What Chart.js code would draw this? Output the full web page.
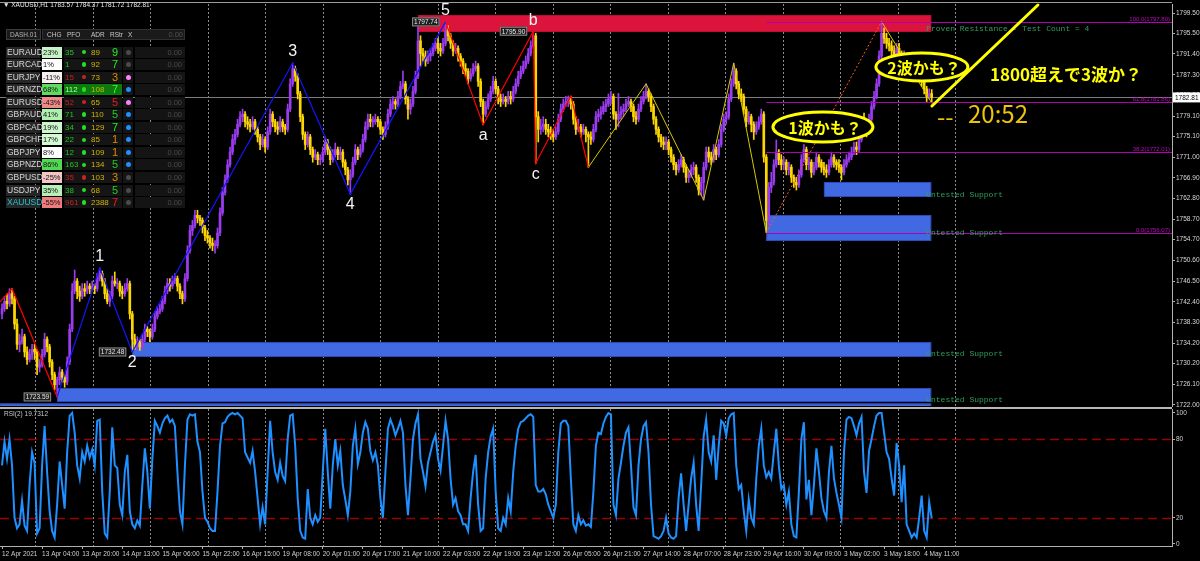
<!DOCTYPE html>
<html lang="ja">
<head>
<meta charset="utf-8">
<title>XAUUSD H1</title>
<script src="https://cdn.jsdelivr.net/npm/chart.js@4.4.1/dist/chart.umd.min.js"></script>
<style>
html,body{margin:0;padding:0;background:#000;}
body{width:1200px;height:561px;position:relative;overflow:hidden;}
canvas{position:absolute;left:0;}
#cMain{top:0;width:1200px;height:407px;}
#cRsi{top:407px;width:1200px;height:154px;}
.d{position:absolute;box-sizing:border-box;height:11px;line-height:11px;white-space:nowrap;font-family:"Liberation Sans",Arial,sans-serif;font-size:8px;}
.dot{position:absolute;border-radius:50%;}
</style>
</head>
<body>
<canvas id="cMain" width="1200" height="407"></canvas>
<canvas id="cRsi" width="1200" height="154"></canvas>
<div id="dash"></div>
<script>
// ---------------- DATA ----------------
const symbolTitle = 'XAUUSD,H1';
const firstOpen = 1740.0;
const C = [
1741.0,1742.5,1742.0,1744.0,1743.0,1738.0,1734.0,1734.5,1735.5,1732.5,
1731.0,1732.0,1733.0,1732.5,1729.5,1730.0,1732.0,1735.0,1733.5,1730.5,
1728.0,1726.0,1727.0,1728.5,1727.5,1726.5,1730.5,1737.0,1744.5,1746.5,
1744.5,1743.5,1745.0,1744.5,1745.5,1745.0,1745.5,1745.0,1747.0,1748.0,
1746.5,1744.0,1742.5,1743.5,1746.5,1746.0,1746.0,1744.5,1744.0,1745.0,
1746.0,1740.0,1735.0,1734.0,1734.5,1733.5,1735.0,1737.0,1736.5,1735.5,
1737.0,1739.5,1740.5,1741.0,1742.5,1744.5,1746.0,1745.5,1746.5,1747.0,
1745.5,1744.0,1743.0,1747.0,1752.5,1756.5,1757.5,1759.5,1759.0,1758.5,
1757.0,1755.5,1755.0,1754.0,1753.5,1753.5,1756.0,1760.0,1764.0,1766.5,
1769.5,1772.0,1774.5,1775.5,1777.5,1779.0,1779.5,1778.0,1777.5,1777.0,
1778.0,1776.5,1775.0,1773.5,1774.5,1773.0,1776.0,1779.5,1778.0,1777.0,
1776.5,1778.0,1777.0,1776.5,1780.5,1785.5,1788.5,1787.0,1783.5,1779.0,
1775.5,1773.5,1775.0,1772.5,1771.0,1771.5,1770.5,1770.5,1772.0,1774.0,
1772.5,1770.5,1771.5,1772.5,1771.5,1772.0,1770.0,1768.5,1766.5,1767.5,
1770.0,1772.5,1771.5,1772.5,1774.5,1777.0,1778.5,1778.0,1778.0,1778.5,
1778.0,1776.5,1775.5,1777.0,1779.5,1781.5,1782.0,1781.5,1783.0,1785.0,
1785.5,1782.5,1780.5,1781.5,1784.0,1787.0,1794.0,1791.5,1791.0,1790.0,
1791.0,1791.5,1792.5,1793.5,1792.5,1792.0,1793.5,1796.0,1795.0,1793.5,
1792.0,1792.5,1791.0,1790.0,1788.5,1788.0,1786.5,1787.5,1788.5,1789.0,
1786.0,1782.0,1779.5,1781.0,1782.5,1784.0,1786.0,1784.5,1782.5,1782.0,
1782.5,1782.0,1783.0,1782.5,1784.0,1785.5,1787.0,1788.0,1789.0,1790.0,
1791.5,1793.0,1795.0,1779.0,1776.5,1777.0,1777.5,1776.5,1776.0,1775.5,
1775.0,1776.0,1778.5,1780.5,1781.5,1782.0,1782.5,1781.5,1778.5,1776.5,
1777.0,1776.0,1776.5,1775.5,1775.0,1774.5,1776.5,1779.0,1779.5,1780.0,
1781.0,1781.5,1782.5,1783.0,1779.5,1778.5,1779.5,1780.0,1780.5,1781.5,
1782.0,1781.0,1779.0,1778.5,1780.5,1782.0,1783.0,1784.0,1783.0,1781.0,
1778.5,1776.5,1775.0,1774.0,1773.5,1774.0,1772.5,1771.0,1769.5,1768.5,
1769.5,1770.5,1769.0,1767.0,1767.5,1768.5,1769.0,1767.0,1764.5,1766.0,
1769.0,1772.0,1771.0,1770.5,1772.5,1771.5,1773.5,1776.5,1778.5,1779.0,
1782.5,1785.5,1788.0,1785.5,1783.5,1783.0,1780.5,1778.0,1779.0,1777.5,
1776.0,1777.0,1778.0,1779.5,1771.0,1758.5,1765.0,1766.0,1769.5,1772.0,
1770.5,1769.5,1770.0,1768.5,1769.0,1767.0,1766.0,1765.5,1767.5,1770.5,
1772.5,1769.5,1770.0,1768.0,1769.0,1771.0,1770.0,1769.0,1768.5,1768.0,
1769.5,1771.0,1770.0,1769.5,1769.0,1768.0,1769.5,1770.5,1771.0,1772.0,
1773.0,1772.5,1774.5,1777.5,1776.5,1776.0,1778.5,1781.0,1783.0,1785.5,
1791.0,1795.5,1794.5,1793.5,1793.0,1792.0,1791.0,1792.5,1791.5,1790.0,
1791.0,1789.5,1788.5,1787.5,1788.0,1787.0,1787.5,1786.0,1784.5,1783.0,
1783.57,1782.81];
const H = [
1742.0,1743.5,1744.0,1745.0,1745.0,1743.5,1739.0,1736.0,1737.0,1736.0,
1733.5,1733.0,1734.0,1734.0,1733.0,1731.0,1733.0,1736.2,1735.5,1734.0,
1731.0,1728.5,1727.5,1729.5,1729.0,1728.0,1731.5,1738.0,1746.0,1748.7,
1747.0,1745.5,1746.0,1746.0,1746.5,1746.0,1746.5,1746.0,1748.0,1749.1,
1748.5,1747.0,1745.0,1744.5,1747.5,1748.3,1747.0,1746.5,1745.5,1746.0,
1747.0,1746.5,1740.5,1736.0,1735.5,1735.0,1736.0,1738.0,1737.5,1737.0,
1738.0,1740.5,1741.5,1742.0,1743.5,1745.5,1747.0,1747.0,1747.5,1748.0,
1747.5,1746.0,1744.5,1748.0,1753.5,1757.5,1758.5,1760.5,1760.5,1759.5,
1759.0,1757.5,1756.5,1755.5,1755.0,1754.5,1757.0,1761.0,1765.0,1767.5,
1770.5,1773.0,1775.5,1776.5,1778.5,1780.0,1780.5,1780.0,1779.0,1778.5,
1779.0,1778.5,1777.0,1775.5,1775.5,1775.0,1777.0,1780.5,1780.0,1778.5,
1778.0,1779.0,1778.5,1777.5,1781.5,1786.5,1789.6,1789.0,1787.5,1784.0,
1779.5,1776.0,1776.0,1775.5,1773.0,1772.5,1772.0,1771.5,1773.0,1775.0,
1774.5,1773.0,1772.5,1773.8,1773.0,1773.0,1772.5,1770.5,1769.0,1768.5,
1771.0,1773.5,1773.0,1773.5,1775.5,1778.0,1779.5,1779.5,1779.0,1779.5,
1779.0,1778.5,1777.0,1778.0,1780.5,1782.5,1783.0,1782.5,1784.0,1786.0,
1788.0,1786.0,1783.0,1782.5,1785.0,1788.0,1797.5,1795.0,1792.5,1792.0,
1792.0,1792.5,1793.5,1794.5,1794.5,1793.5,1794.5,1797.7,1797.0,1795.5,
1794.0,1793.5,1793.0,1791.5,1790.5,1789.5,1788.5,1788.5,1789.5,1790.0,
1789.5,1786.5,1782.5,1782.0,1783.5,1785.0,1787.0,1786.5,1785.0,1783.5,
1783.5,1783.0,1784.0,1784.0,1785.0,1786.5,1788.0,1789.0,1790.0,1791.0,
1792.5,1794.0,1795.9,1795.5,1780.0,1778.5,1779.0,1778.5,1777.5,1777.0,
1776.5,1777.0,1779.5,1781.5,1782.5,1783.0,1783.1,1783.0,1782.0,1779.0,
1778.5,1777.5,1777.5,1777.0,1776.0,1776.0,1777.5,1780.0,1780.5,1781.0,
1782.0,1782.5,1783.5,1784.0,1783.5,1780.0,1783.6,1781.0,1781.5,1782.5,
1783.0,1782.5,1781.5,1780.0,1781.5,1783.0,1784.0,1785.5,1784.5,1783.5,
1781.5,1779.0,1777.0,1775.5,1775.0,1775.0,1774.5,1773.0,1771.5,1770.0,
1770.5,1771.5,1771.0,1769.5,1768.5,1769.5,1770.0,1769.5,1767.5,1767.0,
1770.0,1773.0,1773.0,1772.0,1773.5,1773.0,1774.5,1777.5,1779.5,1780.0,
1783.5,1786.5,1789.6,1788.5,1786.0,1784.5,1783.5,1781.0,1780.0,1779.5,
1778.0,1778.0,1779.0,1780.5,1780.0,1771.5,1766.0,1768.0,1770.5,1774.4,
1772.5,1771.5,1771.0,1770.5,1770.0,1769.5,1767.5,1767.0,1768.5,1771.5,
1773.5,1773.0,1771.0,1770.5,1770.0,1772.0,1771.5,1770.5,1770.0,1769.5,
1770.5,1772.0,1771.5,1770.5,1770.5,1769.5,1770.5,1771.5,1772.0,1773.0,
1774.0,1774.0,1775.5,1778.5,1779.7,1777.5,1779.5,1782.0,1784.0,1786.5,
1792.0,1797.8,1796.5,1795.5,1794.5,1794.0,1793.0,1793.5,1793.5,1792.0,
1792.0,1791.5,1790.5,1789.0,1789.0,1788.5,1788.5,1788.0,1786.5,1785.0,
1784.5,1784.37];
const L = [
1739.0,1740.5,1741.0,1741.5,1742.0,1737.0,1733.0,1732.5,1734.0,1731.5,
1730.0,1730.5,1731.0,1731.0,1728.0,1728.5,1729.5,1731.5,1732.5,1729.5,
1727.0,1725.0,1723.6,1726.0,1726.5,1725.5,1726.0,1730.0,1736.5,1744.0,
1743.0,1742.5,1743.0,1743.5,1744.0,1744.0,1744.5,1744.0,1744.5,1746.5,
1745.5,1743.0,1742.0,1741.5,1743.0,1745.5,1745.0,1743.5,1743.0,1743.5,
1744.5,1739.0,1732.5,1733.0,1733.0,1732.8,1733.0,1734.5,1735.5,1734.5,
1735.0,1736.5,1739.0,1740.0,1740.5,1742.0,1744.0,1744.5,1745.0,1746.0,
1744.5,1743.0,1742.0,1742.5,1746.5,1752.0,1755.5,1757.0,1758.0,1757.5,
1756.0,1754.5,1754.0,1753.0,1752.5,1752.0,1753.0,1755.5,1759.5,1763.5,
1766.0,1769.0,1771.5,1773.5,1775.0,1777.0,1778.0,1777.0,1776.5,1776.0,
1776.5,1775.5,1774.0,1772.5,1773.0,1772.0,1772.5,1775.5,1777.0,1776.0,
1775.5,1776.0,1776.0,1775.5,1776.0,1780.0,1785.0,1786.0,1782.5,1778.0,
1774.5,1772.5,1773.0,1771.5,1770.0,1770.5,1769.5,1769.5,1770.0,1771.5,
1771.5,1769.5,1770.0,1771.0,1770.5,1770.5,1769.0,1767.5,1765.5,1763.7,
1767.0,1769.5,1770.5,1771.0,1772.0,1774.0,1776.5,1777.0,1777.0,1777.5,
1777.0,1775.5,1774.5,1775.0,1776.5,1779.0,1780.5,1780.5,1781.0,1782.5,
1784.5,1781.5,1778.5,1779.5,1781.0,1783.5,1786.5,1789.0,1790.0,1789.0,
1789.5,1790.0,1791.0,1792.0,1791.5,1791.0,1791.5,1793.0,1794.0,1792.5,
1791.0,1791.5,1790.0,1789.0,1787.5,1787.0,1785.5,1786.0,1787.0,1788.0,
1785.0,1781.0,1777.4,1779.0,1780.5,1782.0,1783.5,1783.5,1781.5,1781.0,
1781.5,1781.0,1781.5,1781.5,1782.0,1783.5,1785.0,1786.5,1787.5,1788.5,
1789.5,1791.0,1792.5,1769.8,1774.0,1775.5,1776.0,1775.5,1775.0,1774.5,
1774.0,1774.5,1775.5,1778.0,1780.0,1781.0,1781.0,1780.5,1777.5,1775.5,
1776.0,1775.0,1775.5,1774.0,1769.0,1773.5,1774.0,1776.0,1778.0,1778.5,
1779.5,1780.0,1781.0,1781.5,1778.5,1776.5,1777.0,1778.5,1779.0,1780.0,
1781.0,1780.0,1778.0,1777.5,1778.0,1780.0,1781.5,1782.5,1782.0,1780.0,
1777.5,1775.5,1774.0,1773.0,1772.5,1772.5,1771.5,1770.0,1768.5,1767.5,
1768.0,1769.0,1768.0,1766.0,1766.0,1767.0,1767.5,1766.0,1763.5,1763.5,
1762.5,1768.5,1770.0,1769.5,1770.0,1770.5,1771.0,1773.0,1776.0,1777.5,
1778.5,1782.0,1785.0,1784.5,1782.5,1782.0,1779.5,1777.0,1777.5,1776.0,
1774.5,1775.5,1776.5,1777.5,1770.0,1756.1,1757.5,1764.0,1765.5,1769.0,
1769.5,1768.5,1768.5,1767.5,1767.5,1766.0,1765.0,1764.5,1765.0,1767.0,
1770.0,1768.5,1768.5,1767.0,1767.5,1768.5,1769.0,1768.0,1767.5,1767.0,
1767.5,1769.0,1769.0,1768.5,1768.0,1766.5,1767.5,1769.0,1770.0,1770.5,
1771.5,1771.5,1772.0,1774.0,1775.5,1775.0,1775.5,1778.0,1780.5,1782.5,
1785.0,1790.5,1793.5,1792.5,1792.0,1791.0,1790.0,1790.5,1790.5,1789.0,
1789.5,1788.5,1787.5,1786.5,1787.0,1786.0,1786.5,1785.0,1783.5,1782.0,
1782.5,1781.72];
const RSI = [
60,78,65,80,60,20,12,15,33,14,
10,45,70,62,8,12,60,90,55,25,
10,5,30,63,45,27,70,98,100,85,
60,50,70,63,75,66,72,60,94,95,
40,8,5,40,89,60,58,30,22,55,
68,25,15,12,18,14,45,73,55,27,
65,94,90,85,92,96,98,93,95,90,
55,25,15,60,95,99,98,99,78,70,
40,20,17,12,10,10,40,75,92,93,
97,99,100,99,100,98,96,70,66,62,
71,55,35,15,28,15,55,94,70,55,
49,62,52,48,80,98,99,75,35,10,
5,4,42,20,15,22,17,20,55,88,
55,27,60,80,60,71,45,34,22,40,
75,88,61,70,85,93,88,71,64,70,
60,35,20,55,88,95,90,83,88,94,
85,45,22,50,80,92,99,65,55,44,
62,70,78,83,65,56,75,94,80,50,
30,35,25,22,15,15,10,35,55,68,
30,10,12,50,70,82,88,40,12,10,
20,15,35,25,55,75,88,93,94,96,
98,99,97,45,40,40,42,38,30,25,
20,30,70,92,94,94,90,50,15,10,
22,15,18,14,15,13,40,75,85,84,
92,97,100,99,30,22,50,62,75,85,
89,60,28,22,60,80,90,93,70,30,
6,5,4,6,10,20,8,5,4,6,
35,54,30,10,30,50,62,30,10,45,
82,95,70,63,83,49,75,94,92,83,
96,99,100,60,42,45,25,10,34,20,
15,50,75,88,60,51,55,50,70,88,
60,42,45,30,40,15,6,5,40,80,
93,34,49,22,45,73,55,35,25,20,
55,75,50,39,30,20,70,95,97,96,
90,83,92,97,55,39,71,80,90,98,
100,100,85,70,65,50,37,77,60,32,
60,15,10,5,8,5,20,37,10,5,
32,19.7312];

const priceTicks = [1722.00,1726.10,1730.20,1734.20,1738.30,1742.40,1746.50,1750.60,1754.70,1758.70,1762.80,1766.90,1771.00,1775.10,1779.10,1783.20,1787.30,1791.40,1795.50,1799.50];
const rsiTicks = [0,20,80,100];
const rsiLevels = [80,20];
const xTickLabels = ['12 Apr 2021','13 Apr 04:00','13 Apr 20:00','14 Apr 13:00','15 Apr 06:00','15 Apr 22:00','16 Apr 15:00','19 Apr 08:00','20 Apr 01:00','20 Apr 17:00','21 Apr 10:00','22 Apr 03:00','22 Apr 19:00','23 Apr 12:00','26 Apr 05:00','26 Apr 21:00','27 Apr 14:00','28 Apr 07:00','28 Apr 23:00','29 Apr 16:00','30 Apr 09:00','3 May 02:00','3 May 18:00','4 May 11:00'];
const xTickStep = 16;

// zigzag lines (bar index, price)
const zzRedAX = [-0.8, 4, 22],            zzRedAY = [1742.4, 1745.0, 1723.59];
const zzBlueX = [22, 39, 52, 116, 139, 177], zzBlueY = [1723.59, 1749.1, 1732.48, 1789.6, 1763.7, 1797.74];
const zzRedBX = [177, 192, 212, 213, 227, 234], zzRedBY = [1797.74, 1777.4, 1795.90, 1769.8, 1783.1, 1769.0];
const zzYelX = [234, 257, 280, 292, 305],    zzYelY = [1769.0, 1785.5, 1762.5, 1789.6, 1756.07];
const fibTrendX = [305, 351],                fibTrendY = [1756.07, 1797.80];
const zzYel2X = [351, 371],                  zzYel2Y = [1797.80, 1781.72];

// wave labels
const waveNames = ['1','2','3','4','5','a','b','c'];
const waveIdx   = [39, 52, 116, 139, 177, 192, 212, 213];
const wavePrice = [1749.1, 1732.48, 1789.6, 1763.7, 1797.74, 1777.4, 1795.90, 1769.8];
const waveSide  = [-1, 1, -1, 1, -1, 1, -1, 1];

// price boxes at swing points
const boxIdx   = [22, 52, 177, 212];
const boxPrice = [1723.59, 1732.48, 1797.74, 1795.90];

// fibonacci
const fibPct   = ['100.0','61.8','38.2','0.0'];
const fibPrice = [1797.80, 1781.86, 1772.01, 1756.07];
const fibStartIdx = 305;

// supply / demand zones
const zoneKind   = ['R','S','S','S','S','S'];
const zoneStart  = [166, 328, 305, 52, 22, -1];
const zoneTop    = [1799.10, 1766.09, 1759.56, 1734.45, 1725.36, 1722.30];
const zoneBottom = [1795.74, 1763.12, 1754.42, 1731.49, 1722.59, 1715.00];
const zoneTextPrice = [1796.34, 1763.52, 1756.00, 1732.08, 1723.00, null];
const zoneText   = ['Proven Resistance - Test Count = 4','Untested Support','Untested Support','Untested Support','Untested Support',''];
const zoneEndIdx = 370.8;

// dashboard
const dashSyms = ['EURAUD','EURCAD','EURJPY','EURNZD','EURUSD','GBPAUD','GBPCAD','GBPCHF','GBPJPY','GBPNZD','GBPUSD','USDJPY','XAUUSD'];
const dashChg  = [23,1,-11,68,-43,41,19,17,8,86,-25,35,-55];
const dashPfo  = [35,1,15,112,52,71,34,22,12,163,35,38,961];
const dashAdr  = [89,92,73,108,65,110,129,85,109,134,103,68,2388];
const dashRstr = [9,7,3,7,5,5,7,1,1,5,3,5,7];
const dashVal  = ['0.00','0.00','0.00','0.00','0.00','0.00','0.00','0.00','0.00','0.00','0.00','0.00','0.00'];

// ---------------- STYLES ----------------
const FONT = '"Liberation Sans", Arial, sans-serif';
const JP = '"Noto Sans CJK JP", "Noto Sans", sans-serif';
const UPC = '#9b3cf0', DNC = '#ffd700';
const xMin = -0.8, xMax = 466.9;
const gridBars = Array.from({length:17}, (_, k) => 13.2 + 22.95 * k);
const chgBg  = ['#c6f2c6','#ffffff','#f6eeee','#5fdc5f','#f08a8a','#aef0ae','#cdf5cd','#d4f7d4','#ffffff','#52d852','#f5c4c4','#b6f0b6','#ef7d7d'];
const pfoCol = ['#1ec81e','#1ec81e','#d01e1e','#a8ffa8','#d01e1e','#1ec81e','#1ec81e','#1ec81e','#1ec81e','#1ec81e','#d01e1e','#1ec81e','#d01e1e'];
const pfoDot = ['#22e022','#22e022','#d02020','#22e022','#d02020','#22e022','#22e022','#22e022','#22e022','#22e022','#d02020','#22e022','#22e022'];
const rstrCol= ['#22ee22','#22ee22','#e08a00','#33ff33','#e02020','#22cc22','#22ee22','#e08a00','#e08a00','#22cc22','#e08a00','#22cc22','#ee2020'];
const dot2Col= ['#4a4a4a','#4a4a4a','#ff80ff','#1e90ff','#ff80ff','#1e90ff','#1e90ff','#1e90ff','#1e90ff','#1e90ff','#4a4a4a','#4a4a4a','#4a4a4a'];
const annot = {
  ellipses: [
    {i:327.6, p:1776.96, rx:50, ry:15, text:'1波かも？'},
    {i:367.1, p:1788.82, rx:46, ry:14, text:'2波かも？'}
  ],
  note:  {i:424.6, p:1787.24, text:'1800超えで3波か？'},
  arrow: [[371.1, 1781.11], [413.4, 1801.08]],
  dash:  {i:373.1, p:1778.94, text:'--'},
  time:  {i:385.5, p:1779.53, text:'20:52'}
};

Chart.defaults.font.family = FONT;

const O = C.map((c, i) => i === 0 ? firstOpen : C[i - 1]);
const candleCol = C.map((c, i) => c >= O[i] ? UPC : DNC);
const wickData = C.map((c, i) => ({x: i, y: [L[i], H[i]]}));
const bodyData = C.map((c, i) => ({x: i, y: [O[i], c]}));
const pts = (xs, ys) => xs.map((x, k) => ({x, y: ys[k]}));
const lastIdx = C.length - 1;
const bid = C[lastIdx];

function lineDs(data, color, width, dash) {
  return {type:'line', data, borderColor:color, borderWidth:width, borderDash:dash || [], pointRadius:0, tension:0, order:1, fill:false};
}

// ---------------- MAIN CHART ----------------
const mainPlugin = {
  id: 'mt4main',
  beforeDatasetsDraw(chart) {
    const {ctx, chartArea:a, scales:{x, y}} = chart;
    ctx.save();
    ctx.beginPath(); ctx.rect(a.left, a.top, a.right - a.left, a.bottom - a.top); ctx.clip();
    ctx.strokeStyle = '#8a8a8a'; ctx.lineWidth = 1; ctx.setLineDash([2, 2]);
    gridBars.forEach(g => {
      const X = Math.round(x.getPixelForValue(g)) + 0.5;
      ctx.beginPath(); ctx.moveTo(X, a.top); ctx.lineTo(X, a.bottom); ctx.stroke();
    });
    ctx.setLineDash([]);
    zoneStart.forEach((s, k) => {
      const x0 = x.getPixelForValue(s), x1 = x.getPixelForValue(zoneEndIdx);
      const y0 = y.getPixelForValue(zoneTop[k]), y1 = y.getPixelForValue(zoneBottom[k]);
      ctx.fillStyle = zoneKind[k] === 'R' ? '#dc143c' : '#4169e1';
      ctx.fillRect(x0, y0, x1 - x0, y1 - y0);
      ctx.strokeStyle = zoneKind[k] === 'R' ? '#b81034' : '#2c4cb8';
      ctx.lineWidth = 1;
      ctx.strokeRect(x0 + 0.5, y0 + 0.5, x1 - x0 - 1, y1 - y0 - 1);
    });
    const Yb = Math.round(y.getPixelForValue(bid)) + 0.5;
    ctx.strokeStyle = '#7c7c7c';
    ctx.beginPath(); ctx.moveTo(a.left, Yb); ctx.lineTo(a.right, Yb); ctx.stroke();
    ctx.restore();
  },
  afterDatasetsDraw(chart) {
    const {ctx, chartArea:a, scales:{x, y}} = chart;
    ctx.save();
    // fibonacci levels
    fibPrice.forEach((p, k) => {
      const Y = Math.round(y.getPixelForValue(p)) + 0.5;
      ctx.strokeStyle = '#b400b4'; ctx.lineWidth = 1;
      ctx.beginPath(); ctx.moveTo(x.getPixelForValue(fibStartIdx), Y); ctx.lineTo(a.right, Y); ctx.stroke();
      ctx.fillStyle = '#c800c8'; ctx.font = '6px ' + FONT;
      ctx.textAlign = 'right'; ctx.textBaseline = 'bottom';
      ctx.fillText(fibPct[k] + '(' + p.toFixed(2) + ')', a.right - 2, Y - 0.5);
    });
    // zone texts
    ctx.font = '8px "Liberation Mono", "DejaVu Sans Mono", monospace';
    ctx.fillStyle = '#2e9e5e'; ctx.textAlign = 'left'; ctx.textBaseline = 'middle';
    zoneText.forEach((t, k) => {
      if (!t) return;
      ctx.fillText(t, x.getPixelForValue(zoneEndIdx) - 5, y.getPixelForValue(zoneTextPrice[k]));
    });
    // wave labels
    ctx.font = '16px ' + FONT; ctx.fillStyle = '#f4f4f4'; ctx.textAlign = 'center'; ctx.textBaseline = 'middle';
    waveNames.forEach((n, k) => {
      ctx.fillText(n, x.getPixelForValue(waveIdx[k]), y.getPixelForValue(wavePrice[k]) + waveSide[k] * 11);
    });
    // price boxes
    ctx.font = '6.5px ' + FONT;
    boxPrice.forEach((p, k) => {
      const t = p.toFixed(2);
      const w = ctx.measureText(t).width + 4, h = 9;
      const xr = x.getPixelForValue(boxIdx[k]) - 6, Y = y.getPixelForValue(p);
      ctx.fillStyle = '#1e1e1e'; ctx.fillRect(xr - w, Y - h / 2, w, h);
      ctx.strokeStyle = '#8c8c8c'; ctx.lineWidth = 1; ctx.strokeRect(xr - w + 0.5, Y - h / 2 + 0.5, w - 1, h - 1);
      ctx.fillStyle = '#e8e8e8'; ctx.textAlign = 'center'; ctx.textBaseline = 'middle';
      ctx.fillText(t, xr - w / 2, Y + 0.5);
    });
    // hand-drawn annotations
    annot.ellipses.forEach(e => {
      const cx = x.getPixelForValue(e.i), cy = y.getPixelForValue(e.p);
      ctx.beginPath(); ctx.ellipse(cx, cy, e.rx, e.ry, 0, 0, Math.PI * 2);
      ctx.fillStyle = '#000'; ctx.fill();
      ctx.strokeStyle = '#ffff00'; ctx.lineWidth = 3; ctx.stroke();
      ctx.fillStyle = '#ffff00'; ctx.font = 'bold 16px ' + JP; ctx.textAlign = 'center'; ctx.textBaseline = 'middle';
      ctx.fillText(e.text, cx + 2, cy + 1);
    });
    ctx.strokeStyle = '#ffff00'; ctx.lineWidth = 3; ctx.lineCap = 'round';
    ctx.beginPath();
    ctx.moveTo(x.getPixelForValue(annot.arrow[0][0]), y.getPixelForValue(annot.arrow[0][1]));
    ctx.lineTo(x.getPixelForValue(annot.arrow[1][0]), y.getPixelForValue(annot.arrow[1][1]));
    ctx.stroke();
    ctx.fillStyle = '#ffff00'; ctx.font = 'bold 17px ' + JP; ctx.textAlign = 'center'; ctx.textBaseline = 'middle';
    ctx.fillText(annot.note.text, x.getPixelForValue(annot.note.i), y.getPixelForValue(annot.note.p));
    ctx.fillStyle = '#ecc40a'; ctx.font = '24px ' + JP; ctx.textAlign = 'left';
    ctx.fillText(annot.dash.text, x.getPixelForValue(annot.dash.i), y.getPixelForValue(annot.dash.p));
    ctx.fillText(annot.time.text, x.getPixelForValue(annot.time.i), y.getPixelForValue(annot.time.p));
    ctx.restore();
  },
  afterDraw(chart) {
    const {ctx, chartArea:a, scales:{y}} = chart;
    ctx.save();
    ctx.strokeStyle = '#9a9a9a'; ctx.lineWidth = 1;
    ctx.beginPath(); ctx.moveTo(0, 2.5); ctx.lineTo(a.right, 2.5); ctx.stroke();
    const Y = y.getPixelForValue(bid);
    ctx.fillStyle = '#ffffff'; ctx.fillRect(a.right + 1, Y - 5, 27, 10);
    ctx.fillStyle = '#000'; ctx.font = '6.5px ' + FONT; ctx.textAlign = 'left'; ctx.textBaseline = 'middle';
    ctx.fillText(bid.toFixed(2), a.right + 3, Y + 0.5);
    ctx.restore();
  }
};

new Chart(document.getElementById('cMain'), {
  type: 'bar',
  data: {
    datasets: [
      lineDs(pts(fibTrendX, fibTrendY), '#ff5a1e', 1, [2, 2]),
      lineDs(pts(zzRedAX, zzRedAY), '#ff0000', 1.2),
      lineDs(pts(zzBlueX, zzBlueY), '#1414ff', 1.2),
      lineDs(pts(zzRedBX, zzRedBY), '#ff0000', 1.2),
      lineDs(pts(zzYelX, zzYelY), '#d8c800', 1),
      lineDs(pts(zzYel2X, zzYel2Y), '#d8c800', 1),
      {type:'bar', data: wickData, backgroundColor: candleCol, borderWidth:0, barThickness:1, grouped:false, order:3},
      {type:'bar', data: bodyData, backgroundColor: candleCol, borderWidth:0, barThickness:2, grouped:false, minBarLength:1, order:2}
    ]
  },
  options: {
    responsive:false, animation:false, devicePixelRatio:1, events:[],
    layout:{padding:{top:4, bottom:1, left:0, right:0}},
    plugins:{legend:{display:false}, tooltip:{enabled:false}},
    scales:{
      x:{type:'linear', min:xMin, max:xMax, display:false, offset:false, grid:{display:false, offset:false}},
      y:{type:'linear', position:'right', min:1721.80, max:1801.28,
        afterBuildTicks: s => { s.ticks = priceTicks.map(v => ({value:v})); },
        afterFit: s => { s.width = 28; s.paddingTop = 0; s.paddingBottom = 0; },
        ticks:{color:'#d8d8d8', font:{size:6.5, family:FONT}, padding:1, callback: v => Number(v).toFixed(2)},
        grid:{display:true, drawOnChartArea:false, drawTicks:true, tickLength:3, color:'#b0b0b0'},
        border:{display:true, color:'#b0b0b0', width:1}
      }
    }
  },
  plugins:[mainPlugin]
});

// ---------------- RSI CHART ----------------
const rsiPlugin = {
  id: 'mt4rsi',
  beforeDatasetsDraw(chart) {
    const {ctx, chartArea:a, scales:{x, y}} = chart;
    ctx.save();
    ctx.strokeStyle = '#8a8a8a'; ctx.lineWidth = 1; ctx.setLineDash([2, 2]);
    gridBars.forEach(g => {
      const X = Math.round(x.getPixelForValue(g)) + 0.5;
      ctx.beginPath(); ctx.moveTo(X, a.top); ctx.lineTo(X, a.bottom); ctx.stroke();
    });
    ctx.strokeStyle = '#9a0000'; ctx.lineWidth = 1.3; ctx.setLineDash([9, 5]);
    rsiLevels.forEach(v => {
      const Y = Math.round(y.getPixelForValue(v)) + 0.5;
      ctx.beginPath(); ctx.moveTo(a.left, Y); ctx.lineTo(a.right, Y); ctx.stroke();
    });
    ctx.restore();
  },
  afterDraw(chart) {
    const {ctx, chartArea:a} = chart;
    ctx.save();
    ctx.fillStyle = '#b8b8b8'; ctx.fillRect(0, 0, a.right, 2);
    ctx.fillStyle = '#c8c8c8'; ctx.font = '6.5px ' + FONT; ctx.textAlign = 'left'; ctx.textBaseline = 'middle';
    ctx.fillText('RSI(2) ' + RSI[RSI.length - 1].toFixed(4), 4, 7);
    ctx.restore();
  }
};

new Chart(document.getElementById('cRsi'), {
  type: 'line',
  data: {datasets:[{data: RSI.map((v, i) => ({x:i, y:v})), borderColor:'#1e90ff', borderWidth:2, pointRadius:0, tension:0, fill:false}]},
  options: {
    responsive:false, animation:false, devicePixelRatio:1, events:[],
    layout:{padding:{top:2, bottom:0, left:0, right:0}},
    plugins:{legend:{display:false}, tooltip:{enabled:false}},
    scales:{
      x:{type:'linear', min:xMin, max:xMax, offset:false,
        afterBuildTicks: s => { s.ticks = xTickLabels.map((t, k) => ({value: k * xTickStep})); },
        afterFit: s => { s.height = 15; s.paddingLeft = 0; s.paddingRight = 0; },
        ticks:{color:'#d0d0d0', font:{size:6.5, family:FONT}, padding:1, align:'start', maxRotation:0, minRotation:0, autoSkip:false,
          callback: (v, k) => xTickLabels[k]},
        grid:{display:true, drawOnChartArea:false, drawTicks:true, tickLength:3, color:'#b0b0b0', offset:false},
        border:{display:true, color:'#b0b0b0'}
      },
      y:{type:'linear', position:'right', min:-1.53, max:103.05,
        afterBuildTicks: s => { s.ticks = rsiTicks.map(v => ({value:v})); },
        afterFit: s => { s.width = 28; s.paddingTop = 0; s.paddingBottom = 0; },
        ticks:{color:'#d0d0d0', font:{size:6.5, family:FONT}, padding:1, callback: v => String(v)},
        grid:{display:true, drawOnChartArea:false, drawTicks:true, tickLength:3, color:'#b0b0b0'},
        border:{display:true, color:'#b0b0b0'}
      }
    }
  },
  plugins:[rsiPlugin]
});

// ---------------- DASHBOARD / HEADER ----------------
const dash = document.getElementById('dash');
function div(l, t, w, style, text) {
  const d = document.createElement('div');
  d.className = 'd';
  d.style.left = l + 'px'; d.style.top = t + 'px';
  if (w) d.style.width = w + 'px';
  Object.assign(d.style, style || {});
  if (text !== undefined) d.textContent = text;
  dash.appendChild(d);
  return d;
}
function dot(cx, cy, r, color) {
  const d = document.createElement('div');
  d.className = 'dot';
  Object.assign(d.style, {left:(cx - r) + 'px', top:(cy - r) + 'px', width:(2 * r) + 'px', height:(2 * r) + 'px', background:color});
  dash.appendChild(d);
}
div(3, 0, 0, {color:'#e8e8e8', fontSize:'6.5px', height:'10px', lineHeight:'10px'},
  '\u25BC ' + symbolTitle + '  ' + [O[lastIdx], H[lastIdx], L[lastIdx], C[lastIdx]].map(v => v.toFixed(2)).join(' '));
div(6, 29, 35, {background:'#1a1a1a', border:'1px solid #3c3c3c', color:'#b4b4b4', fontSize:'6.5px', textAlign:'center', lineHeight:'9px'}, 'DASH.01');
div(42, 29, 143, {background:'#1a1a1a', border:'1px solid #303030'});
[['CHG',47],['PFO',67],['ADR',91],['RStr',110],['X',128]].forEach(([t, l]) => div(l, 29, 0, {color:'#c8c8c8', fontSize:'6.5px'}, t));
div(135, 29, 48, {color:'#505050', fontSize:'7.5px', textAlign:'right'}, '0.00');
dashSyms.forEach((s, r) => {
  const T = 46.5 + r * 12.55;
  div(6, T, 34, {background:'#262626', color: s === 'XAUUSD' ? '#22c4d4' : '#d8d8d8', fontSize:'8.5px', paddingLeft:'1px'}, s);
  div(42, T, 20, {background:chgBg[r], color:'#111', fontSize:'7.5px', paddingLeft:'1px'}, dashChg[r] + '%');
  div(64, T, 58, {background: r === 3 ? '#0c7a0c' : '#151515'});
  div(65, T, 0, {color:pfoCol[r], fontSize:'8px'}, String(dashPfo[r]));
  dot(84, T + 5.5, 2.3, pfoDot[r]);
  div(91, T, 0, {color:'#d2b400', fontSize:'8px'}, String(dashAdr[r]));
  div(112, T - 1, 0, {color:rstrCol[r], fontSize:'11px', height:'12px', lineHeight:'12px'}, String(dashRstr[r]));
  div(123, T, 10, {background:'#151515'});
  dot(128.5, T + 5.5, 2.5, dot2Col[r]);
  div(135, T, 50, {background:'#141414', color:'#4a4a4a', fontSize:'7.5px', textAlign:'right', paddingRight:'3px'}, dashVal[r]);
});
</script>
</body>
</html>
